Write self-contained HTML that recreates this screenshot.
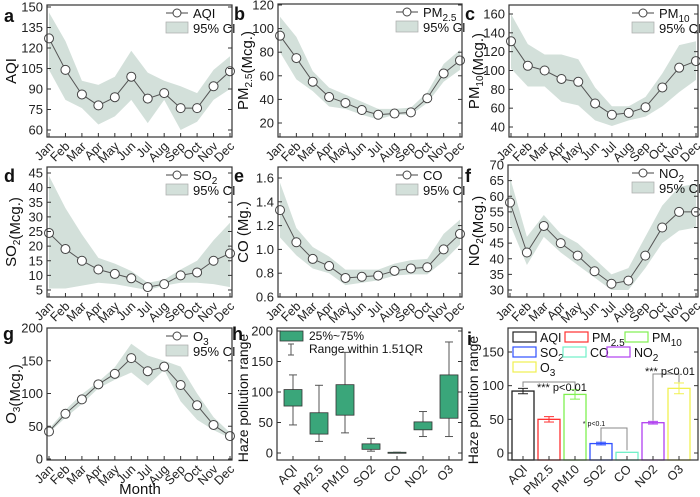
<!DOCTYPE html>
<html><head><meta charset="utf-8"><style>
body{margin:0;background:#fff;}
svg{display:block;font-family:"Liberation Sans",Arial,sans-serif;}
</style></head><body>
<svg id="fig" width="700" height="497" viewBox="0 0 700 497"></svg>
<script>
const months=["Jan","Feb","Mar","Apr","May","Jun","Jul","Aug","Sep","Oct","Nov","Dec"];
const aqiVals=[127,104,86,78,84,99,83,87,76,76,92,103];
const aqiUp=[146,125,96,93,99,118,102,96,92,87,104,114];
const aqiLo=[104,82,76,64,70,82,65,82,60,66,82,90];
const pm25Vals=[94,75,55,42,37,31,27,28,29,41,62,73];
const pm25Up=[110,93,64,50,44,38,32,32,33,46,70,82];
const pm25Lo=[80,57,47,34,32,27,23,27,27,37,55,65];
const pm10Vals=[131,105,100,91,88,65,53,55,61,82,103,110];
const pm10Up=[160,128,117,117,112,82,62,62,72,97,127,131];
const pm10Lo=[102,83,83,67,63,47,41,47,51,62,77,90];
const so2Vals=[24.5,19,15,12,10.5,9,6,7,10,11,15,17.5];
const so2Up=[44,33,24,16,14,11.5,7.5,8.5,12,15,22,28];
const so2Lo=[5.5,5.5,6.5,7.5,7,6,5,6.5,7.5,7.5,7,6];
const coVals=[1.33,1.06,0.92,0.86,0.76,0.77,0.78,0.82,0.84,0.85,1.00,1.13];
const coUp=[1.56,1.18,1.02,0.94,0.83,0.83,0.83,0.88,0.91,0.92,1.13,1.25];
const coLo=[1.10,0.95,0.84,0.80,0.70,0.72,0.74,0.78,0.79,0.79,0.90,1.04];
const no2Vals=[58,42,50.5,45,41,36,32,33,41,50,55,55];
const no2Up=[66,47,54,48,45,40,35,37,47,57,63,64];
const no2Lo=[51,38,47,42,38,34,30,30,37,45,49,50];
const o3Vals=[42,69,91,114,130,154,134,141,113,82,52,35];
const o3Up=[46,75,99,118,140,176,158,150,141,100,64,40];
const o3Lo=[40,63,84,108,121,132,112,136,88,60,44,32];
const aqiTicks=[60,75,90,105,120,135,150];
const pm25Ticks=[20,40,60,80,100,120];
const pm10Ticks=[40,60,80,100,120,140,160];
const so2Ticks=[5,10,15,20,25,30,35,40,45];
const coTicks=[0.6,0.8,1.0,1.2,1.4,1.6];
const no2Ticks=[30,35,40,45,50,55,60,65,70];
const o3Ticks=[0,50,100,150,200];
const pollutants=["AQI","PM2.5","PM10","SO2","CO","NO2","O3"];
const boxQ1=[77,31,62,6,0.5,38,57];
const boxQ3=[104,66,112,15,1.2,51,128];
const boxLow=[46,19,33,3,0.5,27,27];
const boxHigh=[128,111,165,24,1.2,68,182];
const boxTicks=[0,50,100,150,200];
const barMeans=[92,50,87,14,1,45,96];
const barErr=[4,4,7,2,0,2,8];
const barTicks=[0,50,100,150];
const barColors=["#222","#ff3030","#80f050","#3050ff","#70f0c8","#b040f0","#f0f050"];

const NS="http://www.w3.org/2000/svg";
const svg=document.getElementById('fig');
function mk(tag,attrs,parent,text){const e=document.createElementNS(NS,tag);for(const k in attrs)e.setAttribute(k,attrs[k]);if(text!==undefined)e.textContent=text;(parent||svg).appendChild(e);return e;}
function lin(v1,p1,v2,p2){return v=>p1+(v-v1)*(p2-p1)/(v2-v1);}

function frame(g,b,yTicks,ys,fmt){
  for(const t of yTicks){const y=ys(t);
    mk('line',{x1:b.x0,x2:b.x0+4,y1:y,y2:y,stroke:'#333','stroke-width':1},g);
    mk('line',{x1:b.x1,x2:b.x1-4,y1:y,y2:y,stroke:'#333','stroke-width':1},g);
    const lab=mk('text',{x:b.x0-4,y:y+4.5,'font-size':13,'text-anchor':'end',fill:'#222'},g,fmt?fmt(t):t);
    
    
  }
  const r=mk('rect',{x:b.x0,y:b.y0,width:b.x1-b.x0,height:b.y1-b.y0,fill:'none',stroke:'#333','stroke-width':1.2},g);
  
  
}
function ytitle(g,x,cy,html,fs){
  const t=mk('text',{x:0,y:0,'font-size':fs||15,'text-anchor':'middle',fill:'#111',transform:`translate(${x},${cy}) rotate(-90)`},g);
  t.innerHTML=html;
  
  
}
function letter(g,x,y,s){const t=mk('text',{x:x,y:y,'font-size':18,'font-weight':'bold',fill:'#111'},g,s);
  
  }
function xlabels(g,xs,labels,yb){
  labels.forEach((m,i)=>{const x=xs(i);
    const t=mk('text',{x:0,y:0,'font-size':12.5,'text-anchor':'end',fill:'#222',transform:`translate(${x+5},${yb+10}) rotate(-45)`},g,m);
    
    
    mk('line',{x1:x,x2:x,y1:yb,y2:yb-4,stroke:'#333'},g);});
}

function linePanel(cfg){
  const g=mk('g',{});
  
  
  const b=cfg.box;
  const ys=lin(cfg.r[0],cfg.r[1],cfg.r[2],cfg.r[3]);
  const xs=i=>b.x0+2+i*(b.x1-b.x0-4)/11;
  let d='';
  cfg.up.forEach((v,i)=>{d+=(i?'L':'M')+xs(i)+','+ys(v);});
  for(let i=11;i>=0;i--)d+='L'+xs(i)+','+ys(cfg.lo[i]);
  const band=mk('path',{d:d+'Z',fill:'#d3e0da',stroke:'none'},g);
  
  
  const pl=mk('polyline',{points:cfg.vals.map((v,i)=>xs(i)+','+ys(v)).join(' '),fill:'none',stroke:'#555','stroke-width':1},g);
  
  
  cfg.vals.forEach((v,i)=>{const c=mk('circle',{cx:xs(i),cy:ys(v),r:4.5,fill:'#fff',stroke:'#444','stroke-width':1},g);
    
    });
  frame(g,b,cfg.ticks,ys,cfg.fmt);
  xlabels(g,xs,months,b.y1);
  const lx=b.x1-66, ly=b.y0+8;
  const lg=mk('g',{},g);
  
  
  mk('line',{x1:lx,x2:lx+22,y1:ly,y2:ly,stroke:'#444'},lg);
  mk('circle',{cx:lx+11,cy:ly,r:4,fill:'#fff',stroke:'#444'},lg);
  const lt=mk('text',{x:lx+27,y:ly+5,'font-size':13,fill:'#111'},lg);lt.innerHTML=cfg.legend;
  mk('rect',{x:lx,y:ly+9,width:22,height:11,fill:'#d3e0da',stroke:'#aaa','stroke-width':0.7},lg);
  mk('text',{x:lx+27,y:ly+20,'font-size':13,fill:'#111'},lg,'95% CI');
  ytitle(g,cfg.tx,(b.y0+b.y1)/2,cfg.title);
  letter(g,cfg.lx,cfg.ly,cfg.letter);
}
const sub=s=>`<tspan font-size="10" dy="4">${s}</tspan><tspan dy="-4"></tspan>`;
linePanel({name:'panel-a-aqi',box:{x0:47,x1:232,y0:5,y1:137},r:[150,7,60,130],vals:aqiVals,up:aqiUp,lo:aqiLo,ticks:aqiTicks,legend:'AQI',title:'AQI',tx:16,letter:'a',lx:4,ly:22});
linePanel({name:'panel-b-pm25',box:{x0:278,x1:462,y0:4,y1:137},r:[120,5,20,123],vals:pm25Vals,up:pm25Up,lo:pm25Lo,ticks:pm25Ticks,legend:'PM'+sub('2.5'),title:'PM'+sub('2.5')+'(Mcg.)',tx:248,letter:'b',lx:234,ly:20});
linePanel({name:'panel-c-pm10',box:{x0:509,x1:698,y0:5,y1:137},r:[160,14,40,127],vals:pm10Vals,up:pm10Up,lo:pm10Lo,ticks:pm10Ticks,legend:'PM'+sub('10'),title:'PM'+sub('10')+'(Mcg.)',tx:479,letter:'c',lx:465,ly:20});
linePanel({name:'panel-d-so2',box:{x0:47,x1:232,y0:167,y1:297},r:[45,173,5,290],vals:so2Vals,up:so2Up,lo:so2Lo,ticks:so2Ticks,legend:'SO'+sub('2'),title:'SO'+sub('2')+'(Mcg.)',tx:16,letter:'d',lx:4,ly:182});
linePanel({name:'panel-e-co',box:{x0:278,x1:462,y0:167,y1:297},r:[1.6,178,0.6,297],vals:coVals,up:coUp,lo:coLo,ticks:coTicks,fmt:t=>t.toFixed(1),legend:'CO',title:'CO (Mg.)',tx:248,letter:'e',lx:234,ly:182});
linePanel({name:'panel-f-no2',box:{x0:508,x1:698,y0:165,y1:297},r:[70,165,30,290],vals:no2Vals,up:no2Up,lo:no2Lo,ticks:no2Ticks,legend:'NO'+sub('2'),title:'NO'+sub('2')+'(Mcg.)',tx:479,letter:'f',lx:465,ly:182});
linePanel({name:'panel-g-o3',box:{x0:47,x1:232,y0:328,y1:460},r:[200,328,0,459],vals:o3Vals,up:o3Up,lo:o3Lo,ticks:o3Ticks,legend:'O'+sub('3'),title:'O'+sub('3')+'(Mcg.)',tx:16,letter:'g',lx:3,ly:340});
{const t=mk('text',{x:140,y:494,'font-size':15,'text-anchor':'middle',fill:'#111'},svg,'Month');

}

{
  const g=mk('g',{});
  
  
  const b={x0:277,x1:462,y0:328,y1:460};
  const ys=lin(200,331,0,453);
  const xs=i=>293+i*26;
  pollutants.forEach((p,i)=>{const x=xs(i);
    const w=mk('line',{x1:x,x2:x,y1:ys(boxHigh[i]),y2:ys(boxLow[i]),stroke:'#555'},g);
    
    
    mk('line',{x1:x-4,x2:x+4,y1:ys(boxHigh[i]),y2:ys(boxHigh[i]),stroke:'#555'},g);
    mk('line',{x1:x-4,x2:x+4,y1:ys(boxLow[i]),y2:ys(boxLow[i]),stroke:'#555'},g);
    const r=mk('rect',{x:x-9,y:ys(boxQ3[i]),width:18,height:Math.max(1,ys(boxQ1[i])-ys(boxQ3[i])),fill:'#3aa67a',stroke:'#333','stroke-width':0.8},g);
    
    
  });
  frame(g,b,boxTicks,ys);
  xlabels(g,xs,pollutants,b.y1);
  const lg=mk('g',{},g);
  
  
  mk('rect',{x:280,y:331,width:23,height:10,fill:'#3aa67a',stroke:'#333','stroke-width':0.8},lg);
  mk('text',{x:309,y:340,'font-size':12,fill:'#111'},lg,'25%~75%');
  mk('line',{x1:291,x2:291,y1:344,y2:355,stroke:'#555'},lg);
  mk('line',{x1:288,x2:294,y1:344,y2:344,stroke:'#555'},lg);
  mk('line',{x1:288,x2:294,y1:355,y2:355,stroke:'#555'},lg);
  mk('text',{x:309,y:353,'font-size':12,fill:'#111'},lg,'Range within 1.51QR');
  ytitle(g,248,398,'Haze pollution range',14);
  letter(g,232,340,'h');
}
{
  const g=mk('g',{});
  
  
  const b={x0:508,x1:698,y0:328,y1:460};
  const ys=lin(150,352,0,453);
  const xs=i=>523+i*26;
  pollutants.forEach((p,i)=>{const x=xs(i);
    const r=mk('rect',{x:x-11,y:ys(barMeans[i]),width:22,height:b.y1-ys(barMeans[i]),fill:'none',stroke:barColors[i],'stroke-width':1.3},g);
    
    
    if(barErr[i]>0){const hi=ys(barMeans[i]+barErr[i]),lo=ys(barMeans[i]-barErr[i]);
      mk('line',{x1:x,x2:x,y1:hi,y2:lo,stroke:barColors[i]},g);
      mk('line',{x1:x-5,x2:x+5,y1:hi,y2:hi,stroke:barColors[i]},g);
      mk('line',{x1:x-5,x2:x+5,y1:lo,y2:lo,stroke:barColors[i]},g);}
  });
  frame(g,b,barTicks,ys);
  xlabels(g,xs,pollutants,b.y1);
  const sig=mk('g',{stroke:'#888',fill:'none'},g);
  
  
  mk('path',{d:`M${xs(0)},${ys(98)}V382H${xs(2)}V${ys(95)}`},sig);
  mk('path',{d:`M${xs(3)},${ys(17)}V428H${xs(4)}V${ys(4)}`},sig);
  mk('path',{d:`M${xs(5)},${ys(48)}V374H${xs(6)}V${ys(105)}`},sig);
  mk('text',{x:537,y:391,'font-size':11,fill:'#111'},g,'*** p<0.01');
  mk('text',{x:594,y:426,'font-size':7,fill:'#111','text-anchor':'middle'},g,'* p<0.1');
  mk('text',{x:645,y:375,'font-size':11,fill:'#111'},g,'*** p<0.01');
  const lg=mk('g',{},g);
  
  
  const items=[[513,332,'AQI'],[565,332,'PM'+sub('2.5')],[625,332,'PM'+sub('10')],[513,347,'SO'+sub('2')],[563,347,'CO'],[607,347,'NO'+sub('2')],[513,362,'O'+sub('3')]];
  items.forEach((it,i)=>{mk('rect',{x:it[0],y:it[1],width:23,height:10,fill:'none',stroke:barColors[i],'stroke-width':1.2},lg);
    const t=mk('text',{x:it[0]+27,y:it[1]+10,'font-size':12.5,fill:'#111'},lg);t.innerHTML=it[2];});
  ytitle(g,478,400,'Haze pollution range',14);
  letter(g,467,345,'i');
}
</script>
</body></html>
